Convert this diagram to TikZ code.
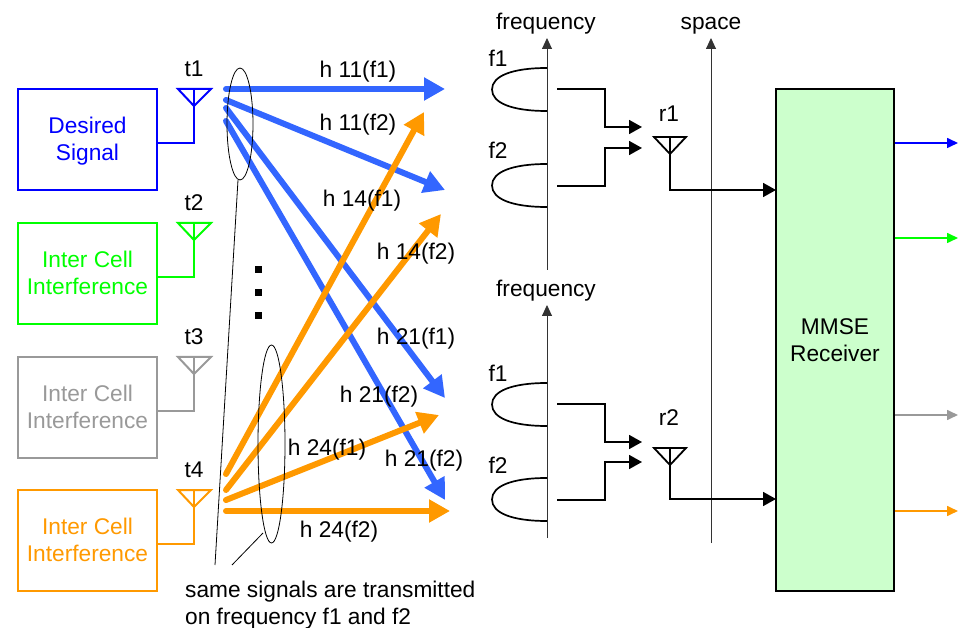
\documentclass[tikz,border=0pt]{standalone}
\usepackage{fontspec}
\setmainfont{Liberation Sans}
\usetikzlibrary{arrows.meta,calc}
\definecolor{linkblue}{HTML}{3366FF}
\definecolor{linkorange}{HTML}{FF9900}
\definecolor{txgray}{HTML}{999999}
\definecolor{rxgreen}{HTML}{CCFFCC}
\tikzset{
  txbox/.style={draw,line width=2pt,minimum width=139pt,minimum height=101pt,inner sep=0pt,align=center},
  lab/.style={text height=15pt,text depth=4pt,yshift=-1.5pt},
  link/.style={line width=6pt,line cap=round,-{Triangle[length=21pt,width=22pt]}},
  feed/.style={line width=1.8pt,-{Triangle[length=13pt,width=14pt]}},
  axis/.style={line width=0.9pt,draw=black!80,-{Triangle[length=11pt,width=10pt]}},
  outlink/.style={line width=1.6pt,-{Triangle[length=11pt,width=10pt]}},
  note/.style={line width=0.8pt}
}
\begin{document}
\begin{tikzpicture}[x=1pt,y=-1pt,every node/.style={font=\fontsize{22.7}{27}\selectfont}]
\useasboundingbox (0,0) rectangle (962,628);
% transmitters
\foreach \nm/\col/\y/\ty/\first/\second in {t1/blue/89/52.5/Desired/Signal,t2/green/223/49.5/Inter Cell/Interference,t3/txgray/357/49.5/Inter Cell/Interference,t4/linkorange/490/49.5/Inter Cell/Interference}{
  \node[txbox,draw=\col] (box\nm) at (87.5,\y+50.5) {};
  \node[align=center,text=\col] (txt\nm) at (87.5,\y+\ty) {\first\\\second};
  \coordinate (ant\nm) at (194,\y);
  \coordinate (tip\nm) at (194,\y+17);
  \coordinate (feed\nm) at (157,\y+54);
  \draw[line width=2pt,\col] (feed\nm) -| (ant\nm);
  \draw[line width=2pt,\col,line join=miter] (178,\y) -- (211,\y) -- (tip\nm) -- cycle;
  \node[lab] (lab\nm) at (194,\y-19) {\nm};
}
% channel links
\foreach \nm/\xa/\ya/\xb/\yb in {a/226/89/445/89,b/226/100/445/190,c/226/108/445/398,d/226/121/445/500}{
  \coordinate (from\nm) at (\xa,\ya); \coordinate (to\nm) at (\xb,\yb);
  \draw[link,linkblue] (from\nm) -- (to\nm);
}
\foreach \nm/\xa/\ya/\xb/\yb in {e/226/474/424/112,f/226/490/441/214,g/226/500/439/415,h/226/511/450/511}{
  \coordinate (from\nm) at (\xa,\ya); \coordinate (to\nm) at (\xb,\yb);
  \draw[link,linkorange] (from\nm) -- (to\nm);
}
\foreach \x/\y/\txt in {358/71/h 11(f1),358/124/h 11(f2),362/200/h 14(f1),416/253/h 14(f2),416/338/h 21(f1),379/396/h 21(f2),327/449/h 24(f1),424/460/h 21(f2),339/530/h 24(f2)}
  \node[lab] at (\x,\y) {\txt};
% same signal marks
\draw[note] (240,124) ellipse (13 and 56);
\draw[note] (271.5,444) ellipse (13.5 and 99);
\coordinate (ella) at (238,180); \coordinate (ellb) at (263,533);
\coordinate (notea) at (215,565); \coordinate (noteb) at (232,565);
\draw[note] (ella) -- (notea);
\draw[note] (ellb) -- (noteb);
\node[anchor=north west,inner sep=0pt,align=left] (same) at (185,581) {same signals are transmitted\\on frequency f1 and f2};
\foreach \y in {270,293,316} \fill (254.5,\y-3.5) rectangle (261.5,\y+3.5);
% receiver
\node[draw,line width=1.8pt,fill=rxgreen,minimum width=118pt,minimum height=502pt,inner sep=0pt,align=center] (rx) at (835,340) {MMSE\\Receiver};
% frequency axes
\coordinate (fa0) at (547,270); \coordinate (fa1) at (547,38);
\coordinate (fb0) at (547,538); \coordinate (fb1) at (547,305);
\coordinate (sp0) at (711,543); \coordinate (sp1) at (711,38);
\draw[axis] (fa0) -- (fa1); \draw[axis] (fb0) -- (fb1); \draw[axis] (sp0) -- (sp1);
\node[lab] (freqa) at (546,23) {frequency};
\node[lab] (freqb) at (546,290) {frequency};
\node[lab] (space) at (711,23) {space};
\foreach \y/\yt/\txt in {68/60/f1,164/152/f2,383/375/f1,478/466/f2}{
  \draw[line width=1.7pt] (547,\y) .. controls (512,\y) and (492,\y+8) .. (492,\y+21.5) .. controls (492,\y+35) and (512,\y+43) .. (547,\y+43);
  \node[lab] at (498,\yt) {\txt};
}
% receive antennas
\foreach \nm/\y/\yl/\ya/\yb/\yc/\yd/\ye in {r1/137/115/89/127/186/148/190,r2/448/418/404/442/500/462/499}{
  \coordinate (ant\nm) at (670,\y);
  \coordinate (in\nm) at (776,\ye);
  \draw[line width=1.8pt,line join=miter] (654,\y) -- (686,\y) -- (670,\y+17) -- cycle;
  \draw[feed] (ant\nm) |- (in\nm);
  \node[lab] (lab\nm) at (669,\yl) {\nm};
  \draw[feed] (557,\ya) -| (605,\yb) -- (642,\yb);
  \draw[feed] (557,\yc) -| (605,\yd) -- (642,\yd);
}
% outputs
\foreach \col/\y in {blue/143,green/238,txgray/415,linkorange/511}
  \draw[outlink,\col] (rx.east |- 0,\y) -- (958,\y);
\end{tikzpicture}
\end{document}
